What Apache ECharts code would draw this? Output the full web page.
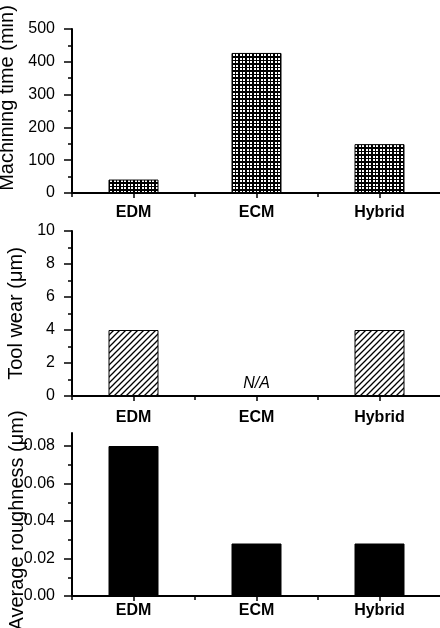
<!DOCTYPE html>
<html>
<head>
<meta charset="utf-8">
<script src="https://cdn.jsdelivr.net/npm/echarts@6/dist/echarts.min.js"></script>
<style>
html,body{margin:0;padding:0;background:#fff;}
#chart{width:440px;height:628px;}
</style>
</head>
<body>
<div id="chart"></div>
<script>
// ---- data ----
const categories = ['EDM', 'ECM', 'Hybrid'];
const machiningTime = [41, 427, 149];          // min
const toolWear = [4, 0, 4];                    // µm (ECM not applicable)
const toolWearNotes = ['', 'N/A', ''];
const roughness = [0.08, 0.028, 0.028];        // µm
const timeAxis = [0, 500, 100];                // min, max, interval
const wearAxis = [0, 10, 2];
const roughAxis = [0, 0.08, 0.02];
const roughAxisTop = 0.087;

// ---- fill patterns ----
function gridPattern() {
  const c = document.createElement('canvas');
  c.width = 7; c.height = 7;
  const g = c.getContext('2d');
  g.fillStyle = '#fff'; g.fillRect(0, 0, 7, 7);
  g.fillStyle = '#000';
  g.fillRect(0, 0, 7, 2); g.fillRect(0, 4, 7, 1);
  g.fillRect(0, 0, 2, 7); g.fillRect(4, 0, 1, 7);
  return c;
}
function hatchPattern() {
  const s = 6;
  const c = document.createElement('canvas');
  c.width = s; c.height = s;
  const g = c.getContext('2d');
  g.fillStyle = '#fff'; g.fillRect(0, 0, s, s);
  g.strokeStyle = '#000'; g.lineWidth = 1.3;
  g.beginPath();
  g.moveTo(0, s); g.lineTo(s, 0);
  g.moveTo(-1, 1); g.lineTo(1, -1);
  g.moveTo(s - 1, s + 1); g.lineTo(s + 1, s - 1);
  g.stroke();
  return c;
}

const FONT = 'Liberation Sans, Arial, Helvetica, sans-serif';
const chart = echarts.init(document.getElementById('chart'), null, {renderer: 'canvas'});

function catAxis(gridIndex, margin) {
  return [{
    type: 'category', gridIndex, data: categories, position: 'bottom',
    axisLine: {lineStyle: {color: '#000', width: 2}},
    axisTick: {show: true, alignWithLabel: false, length: 4, lineStyle: {color: '#000', width: 1.5}},
    axisLabel: {color: '#000', fontFamily: FONT, fontSize: 16, fontWeight: 'bold', margin}
  }, {
    type: 'category', gridIndex, data: categories, position: 'bottom',
    axisLine: {show: false},
    axisTick: {show: true, alignWithLabel: true, length: 5, lineStyle: {color: '#000', width: 1.5}},
    axisLabel: {show: false}
  }];
}
function valAxis(gridIndex, range, name, nameShift, fmt) {
  return {
    type: 'value', gridIndex, min: range[0], max: range[1], interval: range[2],
    name, nameLocation: 'middle', nameGap: 43,
    nameTextStyle: {color: '#000', fontFamily: FONT, fontSize: 20,
      padding: nameShift >= 0 ? [0, 0, 0, nameShift] : [0, -nameShift, 0, 0]},
    axisLine: {show: true, lineStyle: {color: '#000', width: 2}},
    axisTick: {show: true, length: 8, lineStyle: {color: '#000', width: 1.5}},
    minorTick: {show: true, splitNumber: 2, length: 4, lineStyle: {color: '#000', width: 1.5}},
    splitLine: {show: false},
    axisLabel: {color: '#000', fontFamily: FONT, fontSize: 16, margin: 17, formatter: fmt}
  };
}

const xAxes = [].concat(
  catAxis(0, 12),
  catAxis(1, 14),
  [{type: 'category', gridIndex: 2, data: categories, show: false}],
  catAxis(3, 7)
);

const yAxes = [
  valAxis(0, timeAxis, 'Machining time (min)', 26, v => String(v)),
  valAxis(1, wearAxis, 'Tool wear (\u03bcm)', 0, v => String(v)),
  {
    type: 'value', gridIndex: 2, min: 0, max: roughAxisTop,
    name: 'Average roughness (\u03bcm)', nameLocation: 'middle', nameGap: 45,
    nameTextStyle: {color: '#000', fontFamily: FONT, fontSize: 20, padding: [0, 12, 0, 0]},
    axisLine: {show: true, lineStyle: {color: '#000', width: 2}},
    axisTick: {show: false}, axisLabel: {show: false}, splitLine: {show: false}
  },
  Object.assign(valAxis(3, roughAxis, '', 0, v => v.toFixed(2)), {name: ''})
];

const gridBase = {left: 72, width: 369, outerBoundsMode: 'none', containLabel: false};
const option = {
  animation: false,
  backgroundColor: '#fff',
  grid: [
    Object.assign({top: 29, height: 164}, gridBase),
    Object.assign({top: 231, height: 165}, gridBase),
    Object.assign({top: 433, height: 163}, gridBase),
    Object.assign({top: 446, height: 150}, gridBase)
  ],
  xAxis: xAxes,
  yAxis: yAxes,
  series: [
    {
      type: 'bar', xAxisIndex: 0, yAxisIndex: 0, barWidth: 50,
      data: machiningTime,
      itemStyle: {color: {image: gridPattern(), repeat: 'repeat'}, borderColor: '#000', borderWidth: 1}
    },
    {
      type: 'bar', xAxisIndex: 2, yAxisIndex: 1, barWidth: 50,
      data: toolWear.map((v, i) => toolWearNotes[i] ? {
        value: v, itemStyle: {borderWidth: 0},
        label: {show: true, position: 'top', distance: 4, formatter: toolWearNotes[i],
          color: '#000', fontFamily: FONT, fontSize: 16, fontStyle: 'italic'}
      } : v),
      itemStyle: {color: {image: hatchPattern(), repeat: 'repeat'}, borderColor: '#000', borderWidth: 1}
    },
    {
      type: 'bar', xAxisIndex: 5, yAxisIndex: 3, barWidth: 50,
      data: roughness,
      itemStyle: {color: '#000', borderColor: '#000', borderWidth: 1}
    }
  ]
};
chart.setOption(option);
</script>
</body>
</html>
